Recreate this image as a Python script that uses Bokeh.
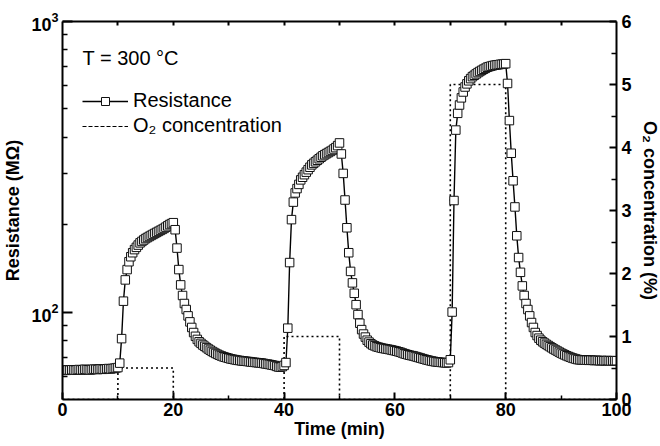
from bokeh.plotting import figure
from bokeh.models import (Range1d, LinearAxis, LinearScale, FixedTicker,
                          LogTickFormatter, Legend, LegendItem, Label)
from bokeh.embed import file_html
from bokeh.resources import INLINE

# ---------------- data ----------------
SAMPLE_MIN = 1 / 3  # one reading every 20 s

# Resistance (MOhm), one value per sample, t = 0 ... 100 min
resistance = [
    # baseline 0-10 min
    63.0, 63.1, 63.0, 63.2, 63.1, 63.3, 63.2, 63.1, 63.3, 63.4,
    63.2, 63.3, 63.5, 63.4, 63.3, 63.2, 63.4, 63.6, 63.5, 63.4,
    63.6, 63.7, 63.5, 63.6, 63.8, 63.9, 63.7, 63.9, 64.0, 64.2,
    64.4,
    # 0.5 % O2 pulse
    66.7, 81, 109, 129, 140, 149, 155, 160, 164, 167,
    170, 173, 175, 177, 179, 180.5, 182, 183.5, 185, 186.5,
    188, 189.5, 191, 192.5, 194, 196, 198, 200, 201.5, 203,
    # recovery
    192, 166, 140, 124, 114, 107, 102, 97, 92.5, 88.5,
    85, 82.5, 80.5, 79, 78, 77, 76.2, 75.4, 74.6, 73.9,
    73.2, 72.6, 72.0, 71.5, 71.0, 70.6, 70.2, 69.9, 69.6, 69.3,
    69.0, 68.8, 68.6, 68.4, 68.2, 68.1, 67.9, 67.8, 67.7, 67.6,
    67.5, 67.3, 67.2, 67.1, 67.0, 66.9, 66.8, 66.7, 66.5, 66.3,
    66.2, 66.0, 65.8, 65.6, 65.4, 65.0, 64.7, 64.6, 64.9, 65.5,
    # 1 % O2 pulse
    67, 88, 148, 208, 239, 257, 266, 275, 285, 291,
    297, 303, 309, 315, 321, 325, 329, 333, 337, 341,
    345, 348, 351, 354, 357, 360, 364, 368, 374, 382,
    # recovery
    350, 300, 243, 195, 160, 138, 126, 116, 106, 98,
    91.5, 87, 84, 82, 80, 78.8, 77.8, 77.0, 76.5, 76.0,
    75.7, 75.4, 75.1, 74.9, 74.7, 74.5, 74.3, 74.1, 73.8, 73.6,
    73.3, 73.0, 72.7, 72.3, 71.9, 71.6, 71.3, 71.0, 70.8, 70.6,
    70.3, 70.0, 69.7, 69.4, 69.1, 68.8, 68.5, 68.3, 68.0, 67.8,
    67.6, 67.4, 67.3, 67.2, 67.1, 67.0, 66.9, 66.8, 67.0, 68.5,
    # 5 % O2 pulse
    100, 242, 423, 483, 516, 546, 572, 595, 610, 625,
    636, 646, 653, 660, 667, 673, 679, 685, 690, 696,
    699, 702, 705, 707, 709, 710, 712, 713, 714, 716,
    # recovery
    612, 456, 352, 283, 230, 183, 154, 137, 123, 114,
    107, 102, 97, 92, 88.5, 85, 83, 81.3, 80, 79,
    78.2, 77.4, 76.7, 76.0, 75.3, 74.6, 74.0, 73.4, 72.8, 72.2,
    71.7, 71.2, 70.7, 70.3, 69.9, 69.5, 69.2, 68.9, 68.6, 68.5,
    68.4, 68.4, 68.3, 68.3, 68.2, 68.3, 68.2, 68.1, 68.2, 68.1,
    68.0, 68.1, 68.0, 68.0, 68.1, 68.0, 67.9, 68.0, 68.0, 68.0,
]
time_min = [round(i * SAMPLE_MIN, 3) for i in range(len(resistance))]

# O2 concentration profile (%)
o2_time = [0, 10, 10, 20, 20, 40, 40, 50, 50, 70, 70, 80, 80, 100]
o2_conc = [0, 0, 0.5, 0.5, 0, 0, 1, 1, 0, 0, 5, 5, 0, 0]

x_major = [0, 20, 40, 60, 80, 100]
x_minor = [10, 30, 50, 70, 90]
x_top_ticks = [10, 20, 30, 40, 50, 60, 70, 80, 90]
r_major = [100, 1000]
r_minor = [60, 70, 80, 90, 200, 300, 400, 500, 600, 700, 800, 900]
o2_major = [0, 1, 2, 3, 4, 5, 6]
o2_minor = [0.5, 1.5, 2.5, 3.5, 4.5, 5.5]

FONT = "Liberation Sans"
NAN = float("nan")

# ---------------- figure ----------------
p = figure(frame_width=554, frame_height=378,
           min_border_left=62, min_border_top=21,
           min_border_right=40, min_border_bottom=44,
           x_range=Range1d(0, 100), y_range=Range1d(50, 1000),
           y_axis_type="log", output_backend="svg", toolbar_location=None)
p.extra_y_ranges = {"o2": Range1d(0, 6)}
p.extra_y_scales = {"o2": LinearScale()}
p.outline_line_color = None
p.xgrid.visible = False
p.ygrid.visible = False
p.background_fill_color = "white"
p.border_fill_color = "white"


def style(ax, tick_in, minor_in):
    ax.axis_line_width = 2
    ax.axis_line_color = "black"
    ax.major_tick_in = tick_in
    ax.major_tick_out = 0
    ax.minor_tick_in = minor_in
    ax.minor_tick_out = 0
    ax.major_tick_line_width = 2
    ax.minor_tick_line_width = 1.5
    ax.major_tick_line_color = "black"
    ax.minor_tick_line_color = "black"
    ax.major_label_text_font = FONT
    ax.major_label_text_font_style = "bold"
    ax.major_label_text_font_size = "18px"
    ax.major_label_text_color = "black"
    ax.axis_label_text_font = FONT
    ax.axis_label_text_font_style = "bold"
    ax.axis_label_text_font_size = "18px"
    ax.axis_label_text_color = "black"


# bottom axis
xa = p.xaxis[0]
xa.ticker = FixedTicker(ticks=x_major, minor_ticks=x_minor)
xa.axis_label = "Time (min)"
style(xa, 7, 4)
xa.major_label_standoff = 3
xa.axis_label_standoff = 0

# left (log) axis
ya = p.yaxis[0]
ya.ticker = FixedTicker(ticks=r_major, minor_ticks=r_minor)
ya.formatter = LogTickFormatter()
ya.axis_label = "Resistance (MΩ)"
style(ya, 10, 5)
ya.major_label_standoff = 4
ya.axis_label_standoff = 5

# top axis (ticks only, no labels)
ta = LinearAxis(ticker=FixedTicker(ticks=[], minor_ticks=x_top_ticks))
style(ta, 4, 4)
ta.minor_tick_line_width = 2
p.add_layout(ta, "above")

# right axis for O2
ra = LinearAxis(y_range_name="o2",
                ticker=FixedTicker(ticks=o2_major, minor_ticks=o2_minor),
                axis_label="O₂ concentration (%)")
style(ra, 7, 5)
ra.major_label_standoff = 5
ra.axis_label_standoff = 5
p.add_layout(ra, "right")

# ---------------- glyphs ----------------
p.line(o2_time, o2_conc, y_range_name="o2", line_color="black",
       line_width=1.6, line_dash="2 3")
r_line = p.line(time_min, resistance, line_color="black", line_width=1.4)
r_sq = p.scatter(time_min, resistance, marker="square", size=8.5,
                 fill_color="white", line_color="#111111", line_width=1)
o2_leg = p.line([NAN], [NAN], line_color="black", line_width=1.2,
                line_dash="4 2")

legend = Legend(items=[LegendItem(label="Resistance", renderers=[r_line, r_sq]),
                       LegendItem(label="O₂ concentration", renderers=[o2_leg])],
                location=(20, 262), border_line_color=None,
                background_fill_alpha=0, label_text_font=FONT,
                label_text_font_size="20px", label_text_color="black",
                glyph_width=46, glyph_height=20,
                label_height=20, label_standoff=5, spacing=2, padding=0,
                margin=0)
p.add_layout(legend)

p.add_layout(Label(x=20, y=342, x_units="screen", y_units="screen",
                   text="T = 300 °C", text_font=FONT, text_font_size="20px",
                   text_baseline="middle", text_color="black"))

open("out.html", "w").write(file_html(p, INLINE))
